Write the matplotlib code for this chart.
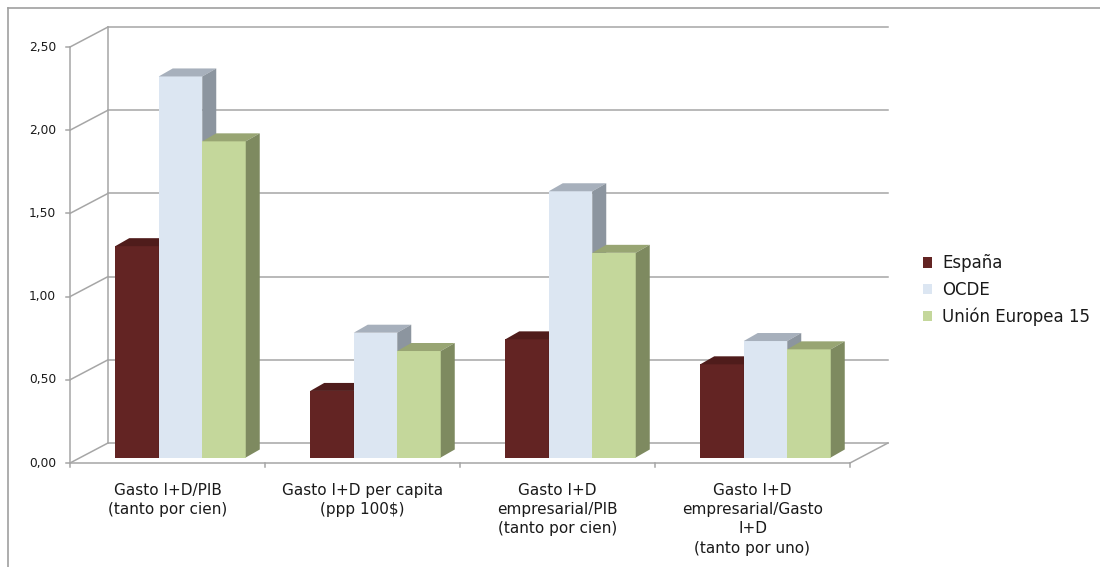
import matplotlib.pyplot as plt
from matplotlib.patches import Polygon, Patch
from matplotlib.lines import Line2D

plt.rcParams['font.family'] = ['DejaVu Sans']

categories = ['Gasto I+D/PIB\n(tanto por cien)',
              'Gasto I+D per capita\n(ppp 100$)',
              'Gasto I+D\nempresarial/PIB\n(tanto por cien)',
              'Gasto I+D\nempresarial/Gasto\nI+D\n(tanto por uno)']
series = ['España', 'OCDE', 'Unión Europea 15']
espana = [1.27, 0.40, 0.71, 0.56]
ocde = [2.29, 0.75, 1.60, 0.70]
ue15 = [1.90, 0.64, 1.23, 0.65]
yticks = [0.0, 0.5, 1.0, 1.5, 2.0, 2.5]

# front, top, side shades per series
colors = [('#632423', '#4f1c1b', '#4a1a19'),
          ('#dce6f2', '#a7b0bc', '#8c959f'),
          ('#c4d79b', '#98a573', '#7e8a60')]

W, H, DPI = 1100, 567, 100
fig = plt.figure(figsize=(W / DPI, H / DPI), dpi=DPI)
ax = fig.add_axes([0, 0, 1, 1])

# front plane: x 0..4 -> 70..850 px, y 0..2.5 -> 463..47 px
sx = 195.0
sy = 166.4
x0_px, y0_px = 70, 463
ax.set_xlim(-x0_px / sx, (W - x0_px) / sx)
ax.set_ylim(-(H - y0_px) / sy, y0_px / sy)
ax.axis('off')

# oblique depth of the wall and of the bars
DX, DY = 38 / sx, 20 / sy
BOX, BOY = 13 / sx, 5.5 / sy
BDX, BDY = 14 / sx, 8 / sy
bw = 43.5 / sx
n = len(categories)
ymax = yticks[-1]

grid = '#a6a6a6'
lw = 1.1
txt = '#1a1a1a'
# back wall grid lines and side wall diagonals
for t in yticks:
    ax.plot([DX, n + DX], [t + DY, t + DY], color=grid, lw=lw, zorder=1)
    ax.plot([0, DX], [t, t + DY], color=grid, lw=lw, zorder=1)
    ax.plot([-4 / sx, 0], [t, t], color=grid, lw=lw, zorder=1)
    ax.text(-14 / sx, t, f'{t:.2f}'.replace('.', ','), ha='right',
            va='center', fontsize=8.8, color=txt)
ax.plot([0, 0], [0, ymax], color=grid, lw=lw, zorder=1)
ax.plot([DX, DX], [DY, ymax + DY], color=grid, lw=lw, zorder=1)
# floor
ax.plot([0, n], [0, 0], color=grid, lw=lw, zorder=1)
ax.plot([n, n + DX], [0, DY], color=grid, lw=lw, zorder=1)
for i in range(n + 1):
    ax.plot([i, i], [0, -4 / sy], color=grid, lw=lw, zorder=1)

# category labels
for i, lab in enumerate(categories):
    ax.text(i + 0.5, -20 / sy, lab, ha='center', va='top', fontsize=11,
            linespacing=1.35, color=txt)


def bar3d(x, h, front, top, side):
    xf, yf = x + BOX, BOY
    ax.add_patch(Polygon([(xf, yf), (xf + bw, yf), (xf + bw, yf + h),
                          (xf, yf + h)], closed=True, fc=front, ec='none',
                         zorder=3))
    ax.add_patch(Polygon([(xf, yf + h), (xf + bw, yf + h),
                          (xf + bw + BDX, yf + h + BDY),
                          (xf + BDX, yf + h + BDY)], closed=True, fc=top,
                         ec='none', zorder=3))
    ax.add_patch(Polygon([(xf + bw, yf), (xf + bw + BDX, yf + BDY),
                          (xf + bw + BDX, yf + h + BDY), (xf + bw, yf + h)],
                         closed=True, fc=side, ec='none', zorder=3))


data = [espana, ocde, ue15]
for i in range(n):
    left = i + 0.5 - 1.5 * bw
    for k, vals in enumerate(data):
        bar3d(left + k * bw, vals[i], *colors[k])

# chart frame
fig.add_artist(Line2D([8 / W, 8 / W], [0, 1 - 8 / H], color='#a0a0a0',
                      lw=1.2, transform=fig.transFigure))
fig.add_artist(Line2D([8 / W, 1], [1 - 8 / H, 1 - 8 / H], color='#a0a0a0',
                      lw=1.2, transform=fig.transFigure))

handles = [Patch(fc=c[0], ec='none') for c in colors]
leg = fig.legend(handles, series, loc='center left',
                 bbox_to_anchor=(908 / W, 1 - 290 / H), frameon=False,
                 fontsize=12, handlelength=0.55, handleheight=0.55,
                 handletextpad=0.6, labelspacing=0.5)
for t in leg.get_texts():
    t.set_color(txt)

fig.savefig('out.png', dpi=DPI)
